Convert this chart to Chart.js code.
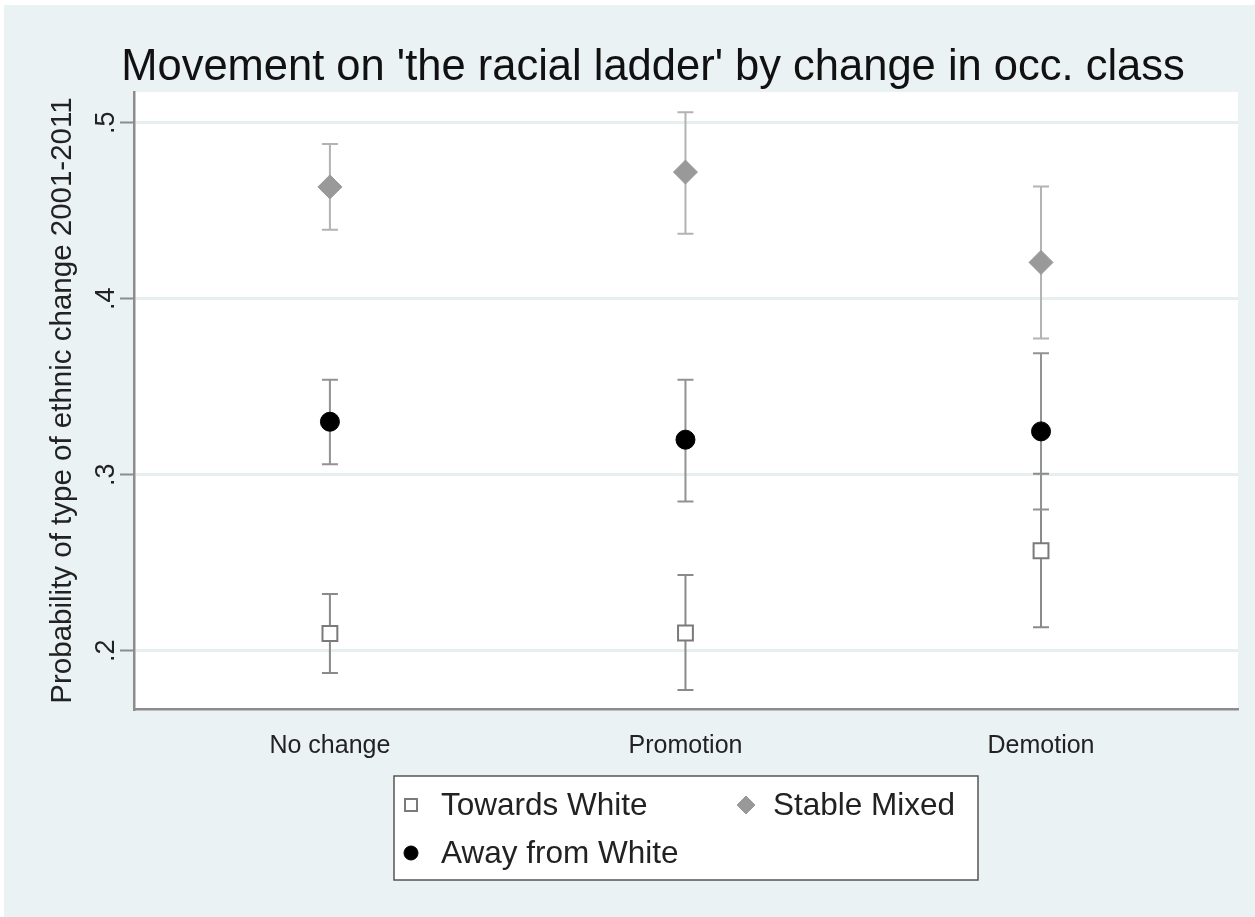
<!DOCTYPE html>
<html>
<head>
<meta charset="utf-8">
<script src="https://cdn.jsdelivr.net/npm/chart.js@4.4.1/dist/chart.umd.min.js"></script>
<style>
  html, body { margin: 0; padding: 0; background: #fff; }
  #box { position: relative; width: 1255px; height: 917px; }
</style>
</head>
<body>
<div id="box"><canvas id="chart"></canvas></div>
<script>
// categories on the x axis
const categories = ['No change', 'Promotion', 'Demotion'];

// point estimates and confidence bounds per series
const towardsWhite   = [0.2098, 0.2101, 0.2568];
const towardsWhiteLo = [0.1873, 0.1777, 0.2133];
const towardsWhiteHi = [0.2322, 0.2430, 0.3005];

const awayWhite   = [0.3301, 0.3199, 0.3246];
const awayWhiteLo = [0.3060, 0.2848, 0.2802];
const awayWhiteHi = [0.3540, 0.3540, 0.3690];

const stableMixed   = [0.4635, 0.4719, 0.4206];
const stableMixedLo = [0.4391, 0.4369, 0.3773];
const stableMixedHi = [0.4879, 0.5059, 0.4637];

const yTicks = [0.2, 0.3, 0.4, 0.5];

const FONT = '"Liberation Sans", Arial, Helvetica, sans-serif';
const BG = '#eaf2f3';
const AXIS = '#8c8c8c';

function pts(vals) {
    return vals.map((v, i) => ({ x: i, y: v }));
}

const datasets = [
    {
        label: 'Towards White',
        data: pts(towardsWhite), lo: towardsWhiteLo, hi: towardsWhiteHi,
        barColor: '#8a8a8a',
        pointStyle: 'rect', pointRadius: 10.5,
        backgroundColor: '#ffffff', borderColor: '#7a7a7a', borderWidth: 2
    },
    {
        label: 'Away from White',
        data: pts(awayWhite), lo: awayWhiteLo, hi: awayWhiteHi,
        barColor: '#929292',
        pointStyle: 'circle', pointRadius: 9.5,
        backgroundColor: '#000000', borderColor: '#000000', borderWidth: 1
    },
    {
        label: 'Stable Mixed',
        data: pts(stableMixed), lo: stableMixedLo, hi: stableMixedHi,
        barColor: '#b3b3b3',
        pointStyle: 'rectRot', pointRadius: 12,
        backgroundColor: '#999999', borderColor: '#999999', borderWidth: 1
    }
];

// backgrounds: white frame, tinted graph region, white plot region
const backdrop = {
    id: 'backdrop',
    beforeDraw(chart) {
        const { ctx, width, height, chartArea: a } = chart;
        ctx.save();
        ctx.fillStyle = '#ffffff';
        ctx.fillRect(0, 0, width, height);
        ctx.fillStyle = BG;
        ctx.fillRect(4, 5, width - 4, height - 5);
        ctx.fillStyle = '#ffffff';
        ctx.fillRect(a.left, a.top, a.right - a.left, a.bottom - a.top);
        ctx.restore();
    }
};

// capped error bars, drawn under the markers
const errorBars = {
    id: 'errorBars',
    beforeDatasetsDraw(chart) {
        const { ctx, scales: { x, y } } = chart;
        ctx.save();
        ctx.lineWidth = 2;
        chart.data.datasets.forEach(ds => {
            ctx.strokeStyle = ds.barColor;
            ds.data.forEach((p, i) => {
                const px = x.getPixelForValue(p.x);
                const top = y.getPixelForValue(ds.hi[i]);
                const bot = y.getPixelForValue(ds.lo[i]);
                ctx.beginPath();
                ctx.moveTo(px, top); ctx.lineTo(px, bot);
                ctx.moveTo(px - 8, top); ctx.lineTo(px + 8, top);
                ctx.moveTo(px - 8, bot); ctx.lineTo(px + 8, bot);
                ctx.stroke();
            });
        });
        ctx.restore();
    }
};

// rotated y tick labels, the title and the boxed legend
const decorations = {
    id: 'decorations',
    afterDraw(chart) {
        const { ctx, chartArea: a, scales: { y } } = chart;
        ctx.save();
        ctx.fillStyle = '#222';
        ctx.font = '27px ' + FONT;
        ctx.textAlign = 'center';
        ctx.textBaseline = 'middle';
        yTicks.forEach(t => {
            ctx.save();
            ctx.translate(107, y.getPixelForValue(t));
            ctx.rotate(-Math.PI / 2);
            ctx.fillText(t.toFixed(1).replace(/^0/, ''), 0, 0);
            ctx.restore();
        });

        ctx.fillStyle = '#111';
        ctx.font = '43.5px ' + FONT;
        ctx.textBaseline = 'alphabetic';
        ctx.fillText("Movement on 'the racial ladder' by change in occ. class", 653, 80);

        const cx = (a.left + a.right) / 2;
        const bw = 584, bh = 104;
        const bx = cx - bw / 2, by = a.bottom + 67;
        ctx.fillStyle = '#ffffff';
        ctx.fillRect(bx, by, bw, bh);
        ctx.strokeStyle = '#555';
        ctx.lineWidth = 1.5;
        ctx.strokeRect(bx, by, bw, bh);

        const slots = [
            { mx: bx + 17, my: by + 29, tx: 30 },
            { mx: bx + 17, my: by + 77, tx: 30 },
            { mx: bx + 352, my: by + 29, tx: 27 }
        ];
        ctx.font = '31.5px ' + FONT;
        ctx.textAlign = 'left';
        ctx.textBaseline = 'middle';
        chart.data.datasets.forEach((ds, k) => {
            const s = slots[k];
            ctx.fillStyle = ds.backgroundColor;
            ctx.strokeStyle = ds.borderColor;
            ctx.lineWidth = ds.borderWidth;
            ctx.beginPath();
            if (ds.pointStyle === 'rect') {
                ctx.rect(s.mx - 6, s.my - 6, 12, 12);
            } else if (ds.pointStyle === 'circle') {
                ctx.arc(s.mx, s.my, 7, 0, Math.PI * 2);
            } else {
                ctx.moveTo(s.mx, s.my - 9); ctx.lineTo(s.mx + 9, s.my);
                ctx.lineTo(s.mx, s.my + 9); ctx.lineTo(s.mx - 9, s.my);
                ctx.closePath();
            }
            ctx.fill();
            ctx.stroke();
            ctx.fillStyle = '#222';
            ctx.fillText(ds.label, s.mx + s.tx, s.my + 1);
        });
        ctx.restore();
    }
};

new Chart(document.getElementById('chart'), {
    type: 'scatter',
    data: { datasets: datasets },
    plugins: [backdrop, errorBars, decorations],
    options: {
        responsive: true,
        maintainAspectRatio: false,
        animation: false,
        devicePixelRatio: 1,
        layout: { padding: { left: 0, right: 17, top: 92, bottom: 148 } },
        plugins: {
            legend: { display: false },
            title: { display: false },
            tooltip: { enabled: false }
        },
        scales: {
            x: {
                type: 'linear',
                min: -0.551,
                max: 2.554,
                afterBuildTicks: axis => {
                    axis.ticks = categories.map((c, i) => ({ value: i }));
                },
                afterFit: axis => { axis.height = 60; },
                grid: { display: false, drawTicks: false },
                border: { display: true, color: AXIS, width: 2.5 },
                ticks: {
                    color: '#222',
                    padding: 22,
                    font: { family: FONT, size: 25 },
                    callback: v => categories[v] ?? ''
                }
            },
            y: {
                min: 0.1669,
                max: 0.5174,
                afterBuildTicks: axis => {
                    axis.ticks = yTicks.map(v => ({ value: v }));
                },
                afterFit: axis => { axis.width = 134; },
                grid: {
                    color: '#e7eef0',
                    lineWidth: 3,
                    drawTicks: true,
                    tickLength: 14,
                    tickColor: AXIS,
                    tickWidth: 2
                },
                border: { display: true, color: AXIS, width: 2.5 },
                ticks: { display: false },
                title: {
                    display: true,
                    text: 'Probability of type of ethnic change 2001-2011',
                    color: '#222',
                    font: { family: FONT, size: 29.5 },
                    padding: { top: 45, bottom: 0 }
                }
            }
        }
    }
});
</script>
</body>
</html>
